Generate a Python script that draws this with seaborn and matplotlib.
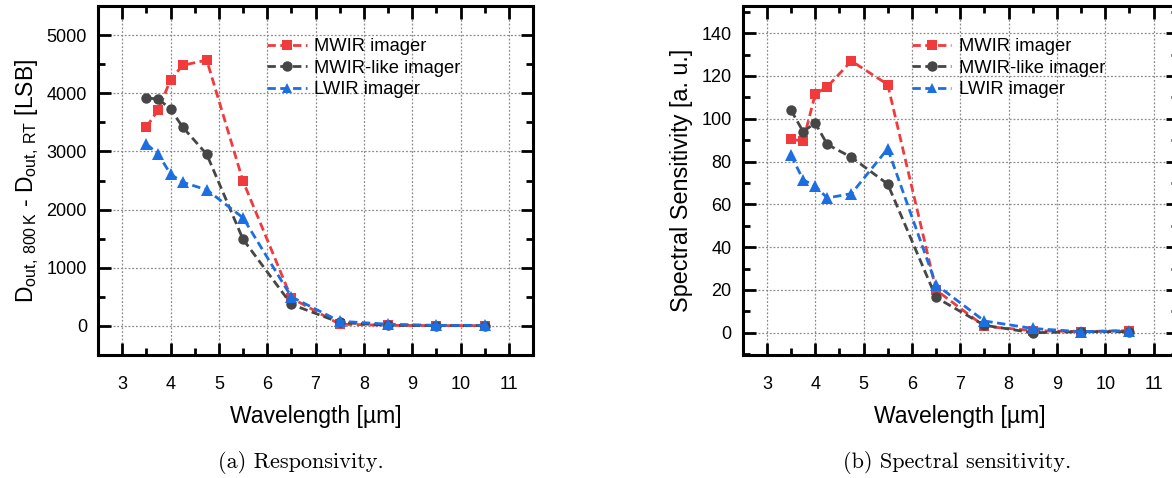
import numpy as np
import pandas as pd
import matplotlib
matplotlib.use("Agg")
import matplotlib.pyplot as plt
import seaborn as sns
from matplotlib.ticker import MultipleLocator
from matplotlib.lines import Line2D

# ---- data ----
wavelength = [3.5, 3.75, 4.0, 4.25, 4.75, 5.5, 6.5, 7.5, 8.5, 9.5, 10.5]
series_names = ["MWIR imager", "MWIR-like imager", "LWIR imager"]

resp_mwir = [3420, 3720, 4230, 4480, 4570, 2490, 480, 30, 10, 5, 5]
resp_mwir_like = [3920, 3900, 3730, 3420, 2950, 1490, 370, 60, 10, 5, 5]
resp_lwir = [3130, 2950, 2610, 2470, 2340, 1860, 500, 80, 30, 10, 10]

sens_mwir = [90.5, 89.5, 111.5, 115.0, 127.0, 116.0, 20.0, 3.0, 1.0, 0.5, 1.0]
sens_mwir_like = [104.0, 94.0, 98.0, 88.0, 82.0, 69.5, 16.5, 3.5, 0.0, 0.5, 0.5]
sens_lwir = [83.0, 71.5, 68.5, 63.0, 65.0, 86.0, 22.5, 5.5, 2.0, 0.5, 1.0]

x_ticks = [3, 4, 5, 6, 7, 8, 9, 10, 11]

colors = ["#f03a3c", "#464646", "#1c6fe0"]
markers = ["s", "o", "^"]

sns.set_theme(style="white")
plt.rcParams["font.family"] = ["Liberation Sans", "DejaVu Sans"]
plt.rcParams["mathtext.fontset"] = "custom"
plt.rcParams["mathtext.rm"] = "Liberation Sans"
plt.rcParams["text.color"] = "black"
plt.rcParams["axes.labelcolor"] = "black"
plt.rcParams["xtick.color"] = "black"
plt.rcParams["ytick.color"] = "black"


def long_df(vals):
    rows = []
    for name, v in zip(series_names, vals):
        for x, y in zip(wavelength, v):
            rows.append({"x": x, "y": y, "series": name})
    return pd.DataFrame(rows)


fig = plt.figure(figsize=(11.72, 4.78), dpi=100)
ax1 = fig.add_axes([98 / 1172, 123 / 478, 435 / 1172, 349 / 478])
ax2 = fig.add_axes([742.7 / 1172, 123 / 478, 435 / 1172, 349 / 478])


def draw(ax, vals, ylim, ymaj, ymin_, ylabel, ylabelsize, ylabelpad):
    df = long_df(vals)
    ax.grid(True, which="major", color="#8c8c8c", linestyle=(0, (1.5, 1.5)), linewidth=0.9)
    ax.set_axisbelow(True)
    for name, c, m in zip(series_names, colors, markers):
        sub = df[df["series"] == name]
        sns.lineplot(data=sub, x="x", y="y", ax=ax, color=c, marker=m,
                     markersize=7.5 if m != "^" else 8.5, markeredgewidth=0,
                     linewidth=2.0, linestyle=(0, (3, 1.6)), legend=False,
                     zorder=3)
    ax.set_xlim(2.5, 11.5)
    ax.set_ylim(*ylim)
    ax.set_xticks(x_ticks)
    ax.xaxis.set_minor_locator(MultipleLocator(0.5))
    ax.yaxis.set_major_locator(MultipleLocator(ymaj))
    ax.yaxis.set_minor_locator(MultipleLocator(ymin_))
    ax.tick_params(which="major", direction="in", length=9, width=2,
                   top=True, right=True, bottom=True, left=True,
                   labelsize=13, colors="black")
    ax.tick_params(axis="x", which="major", pad=15)
    ax.tick_params(axis="y", which="major", pad=8)
    ax.tick_params(which="minor", direction="in", length=5, width=2,
                   top=True, right=True, bottom=True, left=True)
    for s in ax.spines.values():
        s.set_visible(True)
        s.set_linewidth(2.2)
        s.set_color("black")
    ax.set_xlabel("Wavelength [µm]", fontsize=16.5, labelpad=9)
    ax.set_ylabel(ylabel, fontsize=ylabelsize, labelpad=ylabelpad)
    handles = [Line2D([0], [0], color=c, marker=m, markersize=7.5, markeredgewidth=0,
                      linewidth=2.0, linestyle=(0, (3, 1.6)))
               for c, m in zip(colors, markers)]
    ax.legend(handles, series_names, loc="upper left", bbox_to_anchor=(0.389, 0.908),
              frameon=False, fontsize=13.2, handlelength=2.15, handletextpad=0.4,
              labelspacing=0.25, borderaxespad=0, borderpad=0)


draw(ax1, [resp_mwir, resp_mwir_like, resp_lwir], (-500, 5500), 1000, 500,
     r"D$_{\mathregular{out,\,800\,K}}$ - D$_{\mathregular{out,\,RT}}$ [LSB]", 16.5, 4)
draw(ax2, [sens_mwir, sens_mwir_like, sens_lwir], (-10.4, 152.7), 20, 10,
     "Spectral Sensitivity [a. u.]", 16.8, 6)

fig.text(301 / 1172, 1 - 462 / 478, "(a) Responsivity.", family="cmr10",
         fontsize=16, ha="center", va="center")
fig.text(957 / 1172, 1 - 462 / 478, "(b) Spectral sensitivity.", family="cmr10",
         fontsize=16, ha="center", va="center")

fig.savefig("out.png", dpi=100)
